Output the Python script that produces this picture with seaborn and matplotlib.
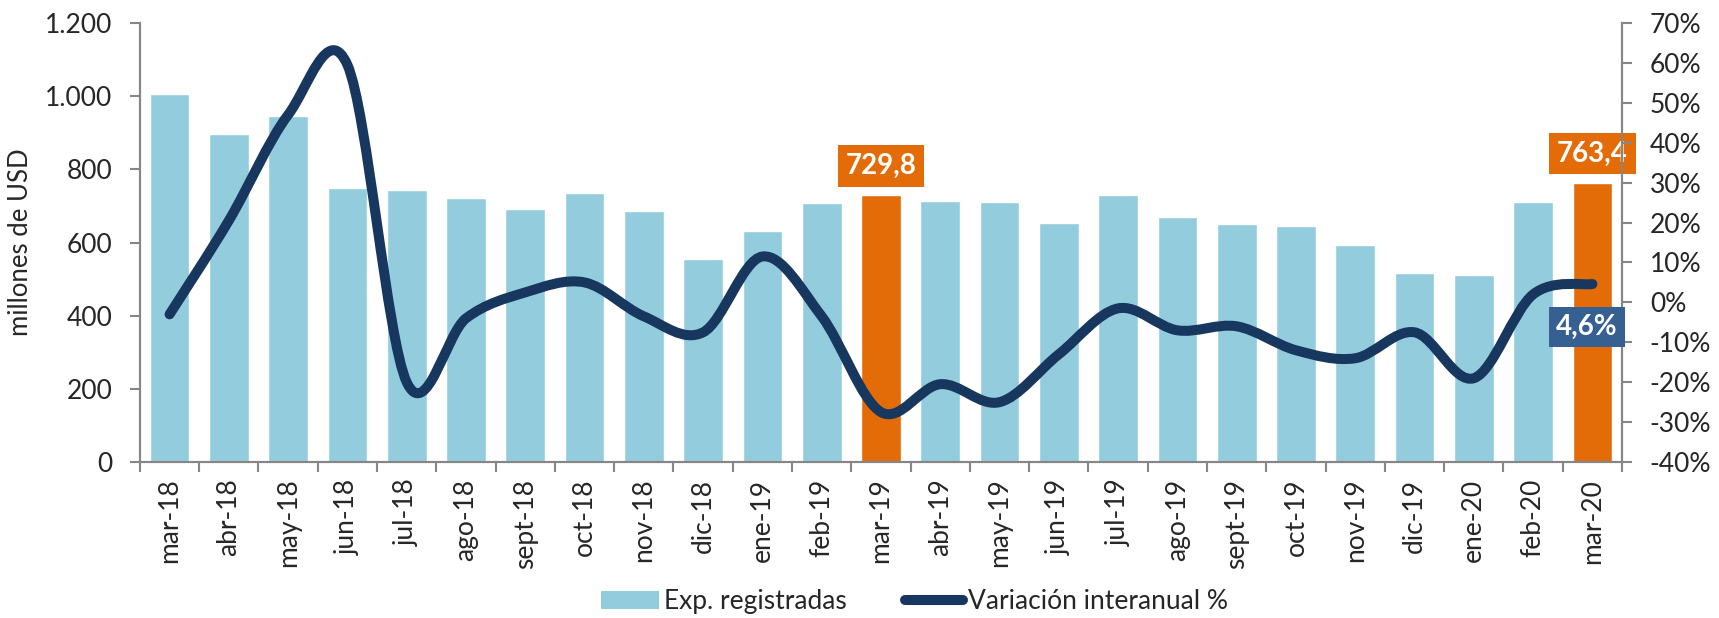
import matplotlib
matplotlib.use('Agg')
import matplotlib.pyplot as plt
import seaborn as sns
import numpy as np
import pandas as pd
from matplotlib.path import Path
from matplotlib.patches import PathPatch, Patch
from matplotlib.lines import Line2D
from matplotlib.ticker import FuncFormatter

months = ['mar-18', 'abr-18', 'may-18', 'jun-18', 'jul-18', 'ago-18', 'sept-18', 'oct-18',
          'nov-18', 'dic-18', 'ene-19', 'feb-19', 'mar-19', 'abr-19', 'may-19', 'jun-19',
          'jul-19', 'ago-19', 'sept-19', 'oct-19', 'nov-19', 'dic-19', 'ene-20', 'feb-20', 'mar-20']
exports = [1006, 896, 947, 750, 744, 722, 691, 735, 686, 556, 631, 709, 729.8, 713,
           712, 654, 731, 669, 650, 645, 594, 516, 511, 712, 763.4]
variation = [-3, 20.5, 47, 59.5, -20, -4, 2.5, 5, -3.5, -7.5, 11.5, -3.5, -27.5, -20.5,
             -25, -13, -1.5, -7, -6, -12, -14, -7.5, -19, 2, 4.6]
highlight = ['mar-19', 'mar-20']

LIGHT = '#93CDDD'
ORANGE = '#E36C09'
NAVY = '#17375E'
BOXBLUE = '#376092'
GREY = '#868686'

sns.set_style('ticks')
plt.rcParams['font.family'] = ['Lato', 'DejaVu Sans']

df = pd.DataFrame({'month': months, 'exp': exports})
colors = {m: (ORANGE if m in highlight else LIGHT) for m in months}

fig = plt.figure(figsize=(17.19, 6.18), dpi=100)
ax = fig.add_axes([0.0814, 0.2524, 0.8622, 0.7104])

sns.barplot(data=df, x='month', y='exp', hue='month', palette=colors, legend=False,
            width=0.67, saturation=1, ax=ax)
ax.set_xlim(-0.5, len(months) - 0.5)
ax.set_ylim(0, 1200)
ax.set_yticks(range(0, 1201, 200))
ax.yaxis.set_major_formatter(FuncFormatter(lambda v, p: '{:,.0f}'.format(v).replace(',', '.')))
ax.set_xlabel('')
ax.set_ylabel('')
ax.set_xticks(np.arange(-0.5, len(months), 1), minor=True)
ax.set_xticks(range(len(months)))
ax.set_xticklabels(months, rotation=90)
ax.tick_params(axis='x', which='major', length=0, pad=12, labelsize=19)
ax.tick_params(axis='x', which='minor', length=7, width=1.5, color=GREY)
ax.tick_params(axis='y', length=7, width=1.5, color=GREY, pad=13, labelsize=19)
for s in ['left', 'bottom', 'right']:
    ax.spines[s].set_color(GREY)
    ax.spines[s].set_linewidth(1.5)
ax.spines['top'].set_visible(False)

# secondary axis for the year-on-year change, drawn as a smoothed curve
ax2 = ax.twinx()
ax2.set_ylim(-40, 70)
ax2.set_yticks(range(-40, 71, 10))
ax2.yaxis.set_major_formatter(FuncFormatter(lambda v, p: '{:.0f}%'.format(v)))
ax2.tick_params(axis='y', length=7, width=1.5, color=GREY, pad=13, labelsize=19)
for s in ['left', 'bottom', 'right']:
    ax2.spines[s].set_color(GREY)
    ax2.spines[s].set_linewidth(1.5)
ax2.spines['top'].set_visible(False)

xs = np.arange(len(variation), dtype=float)
ys = np.array(variation, dtype=float)
verts = [(xs[0], ys[0])]
codes = [Path.MOVETO]
n = len(xs)
for i in range(n - 1):
    p0 = i - 1 if i > 0 else i
    p3 = i + 2 if i + 2 < n else i + 1
    c1 = (xs[i] + (xs[i + 1] - xs[p0]) / 6, ys[i] + (ys[i + 1] - ys[p0]) / 6)
    c2 = (xs[i + 1] - (xs[p3] - xs[i]) / 6, ys[i + 1] - (ys[p3] - ys[i]) / 6)
    verts += [c1, c2, (xs[i + 1], ys[i + 1])]
    codes += [Path.CURVE4] * 3
curve = PathPatch(Path(verts, codes), fill=False, edgecolor=NAVY, lw=7.2,
                  capstyle='round', joinstyle='round')
ax2.add_patch(curve)

# data labels
for m in highlight:
    i = months.index(m)
    ax.annotate('{:.1f}'.format(exports[i]).replace('.', ','), xy=(i, exports[i]),
                xytext=(0, 21), textcoords='offset points', ha='center', va='center',
                fontsize=20, fontweight='bold', color='white',
                bbox=dict(boxstyle='square,pad=0.28', fc=ORANGE, ec='none'))
ax2.annotate('{:.1f}%'.format(variation[-1]).replace('.', ','), xy=(len(months) - 1, variation[-1]),
             xytext=(-4, -31), textcoords='offset points', ha='center', va='center',
             fontsize=20, fontweight='bold', color='white',
             bbox=dict(boxstyle='square,pad=0.25', fc=BOXBLUE, ec='none'))

fig.text(0.012, 0.608, 'millones de USD', rotation=90, ha='center', va='center', fontsize=18.5)

handles = [Patch(facecolor=LIGHT, edgecolor='none'),
           Line2D([0], [0], color=NAVY, lw=7.2, solid_capstyle='round')]
fig.legend(handles, ['Exp. registradas', 'Variación interanual %'], loc='center',
           bbox_to_anchor=(0.532, 0.026), ncol=2, frameon=False, fontsize=19,
           handlelength=2.2, handletextpad=0.2, columnspacing=2.2)

fig.savefig('out.png', dpi=100, facecolor='white')
